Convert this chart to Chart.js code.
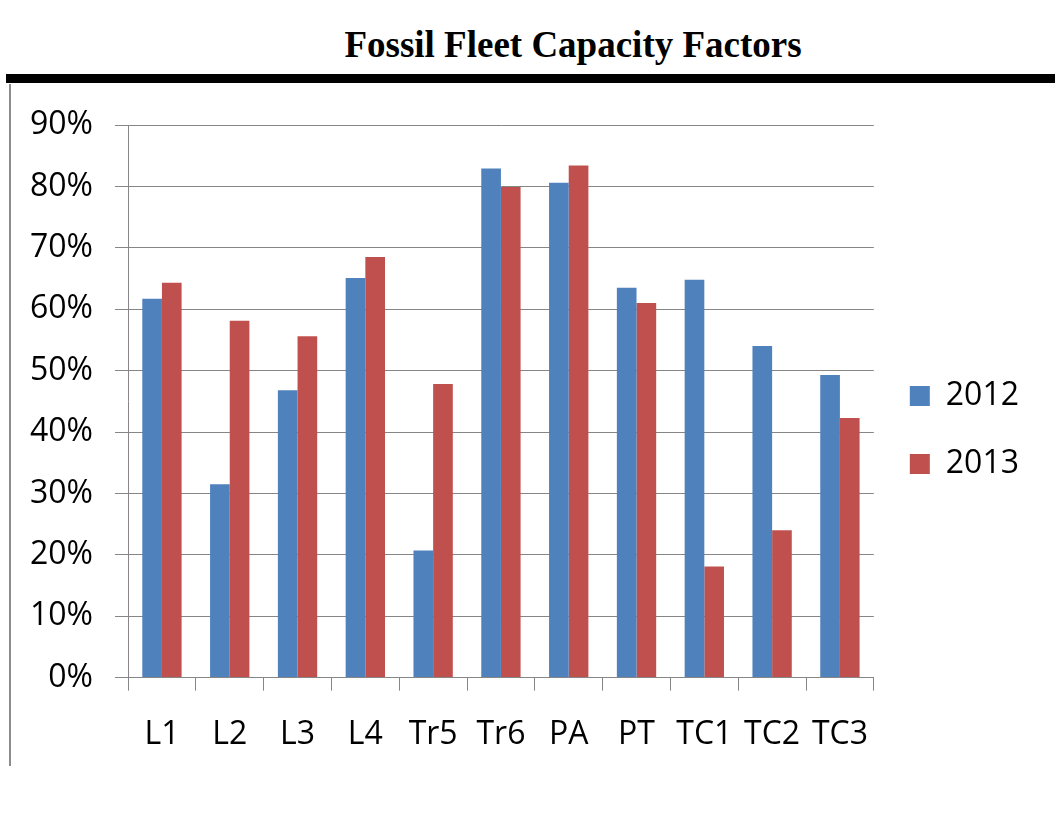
<!DOCTYPE html>
<html>
<head>
<meta charset="utf-8">
<script src="https://cdn.jsdelivr.net/npm/chart.js@4"></script>
<style>
  body { margin: 0; background: #fff; }
  #wrap { position: relative; width: 1055px; height: 829px; overflow: hidden; }
  #title {
    position: absolute; left: 0; width: 1146px; top: 23px; text-align: center;
    font-family: "Liberation Serif", "Times New Roman", serif; font-weight: bold; font-size: 37px;
  }
  #rule { position: absolute; left: 6px; right: 0; top: 74px; height: 9px; background: #000; }
  #frame { position: absolute; left: 9px; top: 84px; width: 0; height: 682px; border-left: 2px solid #8c8c8c; }
  canvas { position: absolute; left: 0; top: 0; }
</style>
</head>
<body>
<div id="wrap">
  <div id="title">Fossil Fleet Capacity Factors</div>
  <div id="rule"></div>
  <div id="frame"></div>
  <canvas id="chart" width="1055" height="829"></canvas>
</div>
<script>
var categories = ["L1", "L2", "L3", "L4", "Tr5", "Tr6", "PA", "PT", "TC1", "TC2", "TC3"];
var values2012 = [0.617, 0.315, 0.468, 0.651, 0.207, 0.829, 0.806, 0.635, 0.648, 0.540, 0.493];
var values2013 = [0.643, 0.581, 0.556, 0.685, 0.478, 0.799, 0.834, 0.610, 0.181, 0.240, 0.423];
var yTicks = [0, 0.1, 0.2, 0.3, 0.4, 0.5, 0.6, 0.7, 0.8, 0.9];

var ctx = document.getElementById("chart").getContext("2d");

new Chart(ctx, {
  type: "bar",
  data: {
    labels: categories,
    datasets: [
      {
        label: "2012",
        backgroundColor: "#4F81BD", // blue
        data: values2012,
        barPercentage: 1,
        categoryPercentage: 0.58,
        borderWidth: 0,
      },
      {
        label: "2013",
        backgroundColor: "#C0504D", // red
        data: values2013,
        barPercentage: 1,
        categoryPercentage: 0.58,
        borderWidth: 0,
      },
    ],
  },
  options: {
    responsive: false,
    animation: false,
    layout: {
      padding: { top: 125, left: 8, right: 26, bottom: 50 },
    },
    plugins: {
      legend: {
        position: "right",
        align: "start",
        // empty title used only as a spacer to push the items down
        title: { display: true, text: "", padding: { top: 207, bottom: 0 }, font: { size: 10 } },
        labels: {
          boxWidth: 20,
          boxHeight: 20,
          padding: 36,
          color: "#000",
          font: { size: 32, family: "Open Sans" },
        },
      },
      tooltip: { enabled: false },
    },
    scales: {
      y: {
        min: 0,
        max: 0.9,
        afterBuildTicks: function (axis) {
          axis.ticks = yTicks.map(function (v) { return { value: v }; });
        },
        border: { color: "#868686", width: 1 },
        grid: {
          color: "#868686",
          lineWidth: 1,
          tickLength: 13,
        },
        ticks: {
          padding: 22,
          color: "#000",
          font: { size: 32, family: "Open Sans" },
          callback: function (v) { return Math.round(v * 100) + "%"; },
        },
      },
      x: {
        border: { color: "#868686", width: 1 },
        grid: {
          offset: true,
          drawOnChartArea: false,
          color: "#868686",
          tickLength: 13,
        },
        ticks: {
          padding: 25,
          color: "#000",
          maxRotation: 0,
          font: { size: 32, family: "Open Sans" },
        },
      },
    },
  },
});
</script>
</body>
</html>
